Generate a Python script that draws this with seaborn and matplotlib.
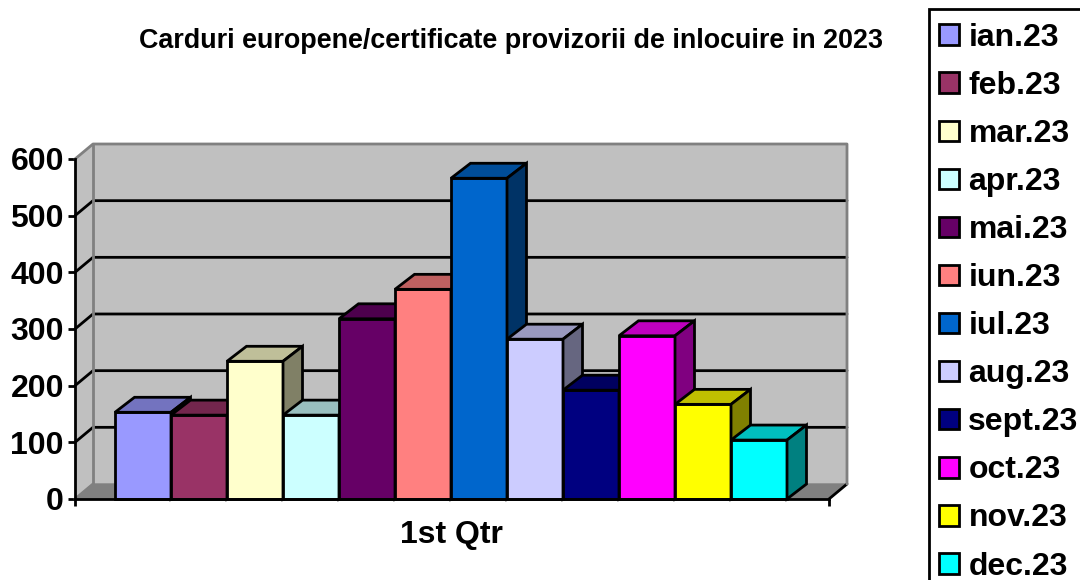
import matplotlib
matplotlib.use("Agg")
import matplotlib.pyplot as plt
from matplotlib.patches import Rectangle
import seaborn as sns
import pandas as pd
import numpy as np

luni = ["ian.23", "feb.23", "mar.23", "apr.23", "mai.23", "iun.23",
        "iul.23", "aug.23", "sept.23", "oct.23", "nov.23", "dec.23"]
carduri = [153, 148, 243, 148, 318, 370, 566, 282, 192, 288, 167, 104]
culori = ["#9999FF", "#993366", "#FFFFCC", "#CCFFFF", "#660066", "#FF8080",
          "#0066CC", "#CCCCFF", "#000080", "#FF00FF", "#FFFF00", "#00FFFF"]
y_ticks = [0, 100, 200, 300, 400, 500, 600]

sns.set_style("white")
plt.rcParams['font.family'] = ['Liberation Sans', 'DejaVu Sans']
plt.rcParams['font.weight'] = 'bold'
plt.rcParams['text.color'] = 'black'
plt.rcParams['ytick.labelcolor'] = 'black'

W, H = 1080, 580
LW = 2
fig = plt.figure(figsize=(W / 100, H / 100), dpi=100)
ax = fig.add_axes([75 / W, 1 - 499 / H, 754 / W, 340 / H])

df = pd.DataFrame({"luna": luni, "carduri": carduri})
sns.barplot(data=df, x="luna", y="carduri", hue="luna", palette=culori,
            order=luni, hue_order=luni, width=1, dodge=False, saturation=1,
            edgecolor="black", linewidth=LW, legend=False, ax=ax)
bars = list(ax.patches)

# axis range, depth of the fake 3d in data units
px_x = 56.0
x0, x1 = -0.5 - 40 / px_x, 11.5 + 42 / px_x
ax.set_xlim(x0, x1)
ax.set_ylim(0, 600)
dx = 18 / px_x
bar_dx = 19.5 / px_x
dy = 15 * 600 / 340


def dark(c, f):
    return tuple(np.array(matplotlib.colors.to_rgb(c)) * f)


# walls and floor
ax.fill([x0 + dx, x1 + dx, x1 + dx, x0 + dx], [dy, dy, 600 + dy, 600 + dy],
        fc="#C0C0C0", ec="none", clip_on=False, zorder=0.5)
ax.fill([x0, x0 + dx, x0 + dx, x0], [0, dy, 600 + dy, 600],
        fc="#C0C0C0", ec="none", clip_on=False, zorder=0.5)
ax.fill([x0, x0 + dx, x1 + dx, x1], [0, dy, dy, 0],
        fc="#808080", ec="#808080", lw=1, clip_on=False, zorder=0.6)

for t in y_ticks[1:-1]:
    ax.plot([x0, x0 + dx, x1 + dx], [t, t + dy, t + dy], color="black", lw=LW,
            clip_on=False, zorder=1, solid_joinstyle="miter")
ax.plot([x1, x1 + dx], [0, dy], color="black", lw=LW, clip_on=False, zorder=1)
ax.plot([x0, x0 + dx], [0, dy], color="#808080", lw=LW, clip_on=False, zorder=1)

# wall outline goes over the grid ends
ax.plot([x0, x0 + dx, x1 + dx, x1 + dx], [600, 600 + dy, 600 + dy, dy],
        color="#808080", lw=LW, clip_on=False, zorder=1.5)
ax.plot([x0 + dx, x0 + dx], [dy, 600 + dy], color="#808080", lw=LW, clip_on=False, zorder=1.5)

# bar sides and tops, left to right so the next bar covers the previous one
for i, p in enumerate(bars):
    a, b = p.get_x(), p.get_x() + p.get_width()
    h = p.get_height()
    c = culori[i]
    p.set_zorder(3 + i)
    p.set_clip_on(False)
    ax.fill([a, a + bar_dx, b + bar_dx, b], [h, h + dy, h + dy, h], fc=dark(c, 0.75),
            ec="black", lw=LW, clip_on=False, zorder=3 + i)
    ax.fill([b, b + bar_dx, b + bar_dx, b], [0, dy, h + dy, h], fc=dark(c, 0.5),
            ec="black", lw=LW, clip_on=False, zorder=3 + i)

sns.despine(ax=ax)
for s in ["left", "bottom"]:
    ax.spines[s].set_linewidth(LW)
    ax.spines[s].set_color("black")
    ax.spines[s].set_zorder(30)
ax.set_yticks(y_ticks)
ax.set_xticks([x0, x1])
ax.set_xticklabels(["", ""])
ax.tick_params(axis="both", direction="out", length=5, width=LW, color="black",
               bottom=True, left=True, pad=3)
for t in ax.get_yticklabels():
    t.set_fontsize(23)
    t.set_fontweight("bold")
    t.set_color("black")
ax.set_ylabel("")
ax.set_xlabel("")

fig.text(451 / W, 1 - 535 / H, "1st Qtr", fontsize=23, fontweight="bold",
         ha="center", va="center", color="black")
fig.text(511 / W, 1 - 41 / H, "Carduri europene/certificate provizorii de inlocuire in 2023",
         fontsize=19.4, fontweight="bold", ha="center", va="center", color="black")

# legend box runs off the canvas
fig.add_artist(Rectangle((929 / W, -0.05), 0.2, 1 - 9 / H + 0.05, fc="white",
                         ec="black", lw=LW, transform=fig.transFigure))
handles = [Rectangle((0, 0), 1, 1, fc=c, ec="black", lw=LW) for c in culori]
fig.legend(handles, luni, loc="upper left", bbox_to_anchor=(939 / W, 1 - 23 / H),
           frameon=False, borderaxespad=0, borderpad=0, prop={"size": 23, "weight": "bold"},
           labelcolor="black", handlelength=0.62, handleheight=0.62, handletextpad=0.3,
           labelspacing=0.565)

fig.savefig("out.png", dpi=100)
